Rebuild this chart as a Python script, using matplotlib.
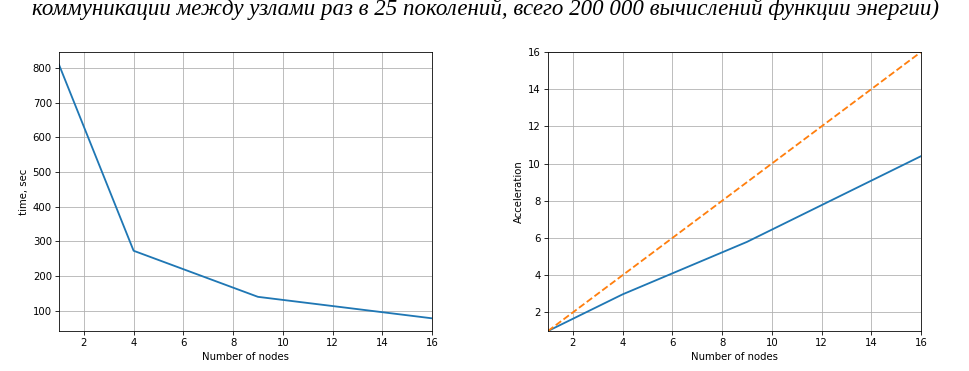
import matplotlib
matplotlib.use('Agg')
import matplotlib.pyplot as plt

# data
nodes = [1, 4, 9, 16]
time_sec = [810, 273, 140, 78]
speedup = [1.0, 2.97, 5.79, 10.4]
ideal_nodes = [1, 16]
ideal_speedup = [1, 16]
x_ticks = [2, 4, 6, 8, 10, 12, 14, 16]
title_text = ("коммуникации между узлами раз в 25 поколений, "
              "всего 200 000 вычислений функции энергии)")

# the source figure looks like a default matplotlib figure shown at ~73 dpi
DPI = 73
W, H = 969, 371

fig = plt.figure(figsize=(W / DPI, H / DPI), dpi=DPI)

fig.text(486 / W, 1 - 15.5 / H, title_text, ha='center', va='baseline',
         family='Liberation Serif', style='italic', fontsize=22.6)

# left: time
ax1 = fig.add_axes([59 / W, 1 - 331 / H, (432 - 59) / W, (331 - 52) / H])
ax1.plot(nodes, time_sec, color='#1f77b4', linewidth=1.8)
ax1.set_xlim(1, 16)
ax1.set_xticks(x_ticks)
ax1.set_yticks([100, 200, 300, 400, 500, 600, 700, 800])
ax1.set_xlabel('Number of nodes')
ax1.set_ylabel('time, sec')
ax1.grid(True)

# right: acceleration
ax2 = fig.add_axes([548 / W, 1 - 331 / H, (921 - 548) / W, (331 - 52) / H])
ax2.plot(nodes, speedup, color='#1f77b4', linewidth=1.8)
ax2.plot(ideal_nodes, ideal_speedup, color='#ff7f0e', linewidth=1.8, linestyle='--')
ax2.set_xlim(1, 16)
ax2.set_ylim(1, 16)
ax2.set_xticks(x_ticks)
ax2.set_yticks([2, 4, 6, 8, 10, 12, 14, 16])
ax2.set_xlabel('Number of nodes')
ax2.set_ylabel('Acceleration')
ax2.grid(True)

plt.savefig('out.png', dpi=DPI)
plt.close()
